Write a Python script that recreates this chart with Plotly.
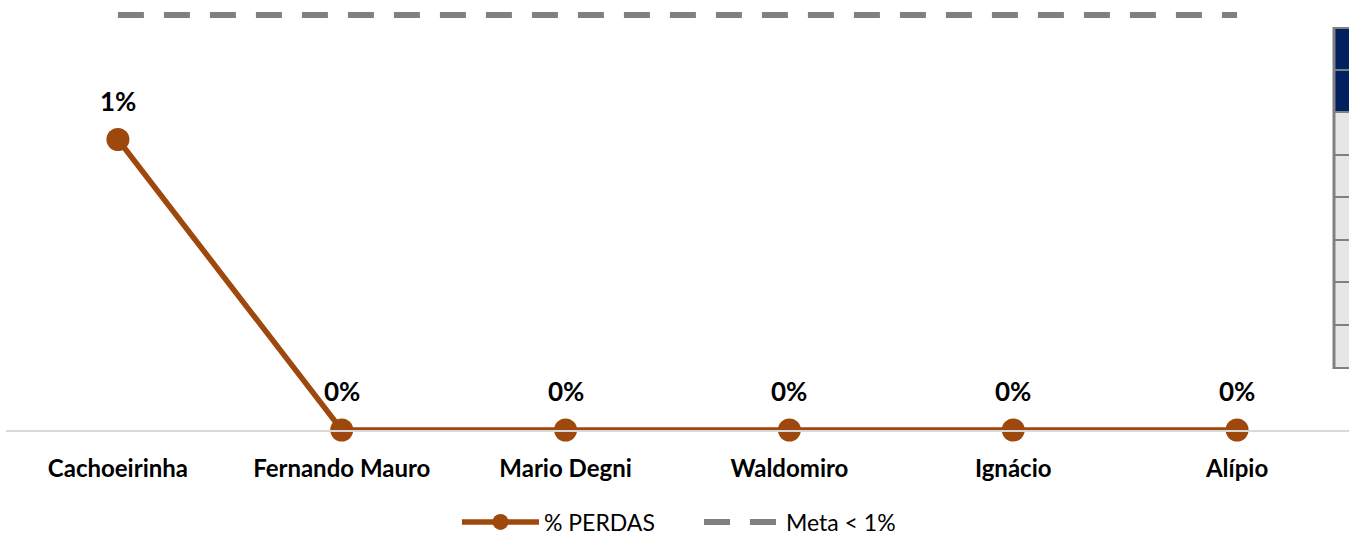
import plotly.graph_objects as go

categories = ["Cachoeirinha", "Fernando Mauro", "Mario Degni", "Waldomiro", "Ignácio", "Alípio"]
perdas = [0.0070, 0.0, 0.0, 0.0, 0.0, 0.0]
meta = [0.01, 0.01, 0.01, 0.01, 0.01, 0.01]

FONT = "Lato, 'Open Sans', sans-serif"
BROWN = "#9E480E"
GRAY = "#808080"

W, H = 1349, 541
ML, MR, MT, MB = 6, 0, 5, 111
PW, PH = W - ML - MR, H - MT - MB

fig = go.Figure()
fig.add_trace(go.Scatter(
    x=categories, y=perdas, name="% PERDAS", mode="lines+markers",
    line=dict(color=BROWN, width=5.5), marker=dict(color=BROWN, size=23),
    cliponaxis=False,
))
fig.add_trace(go.Scatter(
    x=categories, y=meta, name="Meta < 1%", mode="lines",
    line=dict(color=GRAY, width=6, dash="26px,20px"),
    cliponaxis=False,
))

annotations = []
for c, v in zip(categories, perdas):
    annotations.append(dict(
        x=c, y=v, xref="x", yref="y", text=f"{v*100:.0f}%", showarrow=False,
        yshift=39, font=dict(family=FONT, size=26, color="black", weight="bold"),
    ))

def px_x(p):
    return (p - ML) / PW

def px_y(p):
    return (H - MB - p) / PH

shapes = []
# partially visible table on the right edge
rows = [28, 70, 112, 155, 197, 240, 282, 325, 368]
for i in range(len(rows) - 1):
    fill = "#002060" if i < 2 else "#E6E6E6"
    shapes.append(dict(type="rect", xref="paper", yref="paper",
                       x0=px_x(1334), x1=px_x(1354), y0=px_y(rows[i + 1]), y1=px_y(rows[i]),
                       fillcolor=fill, line=dict(color=GRAY, width=2), layer="above"))
shapes.append(dict(type="line", xref="paper", yref="paper",
                   x0=px_x(1334), x1=px_x(1334), y0=px_y(369), y1=px_y(27),
                   line=dict(color=GRAY, width=3), layer="above"))

fig.update_layout(
    width=W, height=H,
    margin=dict(l=ML, r=MR, t=MT, b=MB, autoexpand=False),
    paper_bgcolor="white", plot_bgcolor="white",
    font=dict(family=FONT, color="black"),
    xaxis=dict(
        type="category", range=[-0.5, 5.5], showgrid=False, zeroline=False,
        showline=True, linecolor="#D9D9D9", linewidth=2,
        ticks="", ticklabelstandoff=16, automargin=False,
        tickfont=dict(family=FONT, size=24, color="black", weight="bold"),
        fixedrange=True,
    ),
    yaxis=dict(
        range=[0, 0.01 * PH / 415], visible=False, showgrid=False, zeroline=False,
        fixedrange=True, automargin=False,
    ),
    showlegend=True,
    legend=dict(
        orientation="h", x=0.516, xanchor="center", y=(H - MB - 522) / PH, yanchor="middle",
        font=dict(family=FONT, size=23, color="black"), itemwidth=77,
        entrywidth=150, entrywidthmode="pixels",
        bgcolor="rgba(0,0,0,0)",
    ),
    annotations=annotations,
    shapes=shapes,
)

fig.write_html(
    "out.html",
    config={"displayModeBar": False},
    post_script="document.body.style.margin='0';document.body.style.overflow='hidden';",
)
